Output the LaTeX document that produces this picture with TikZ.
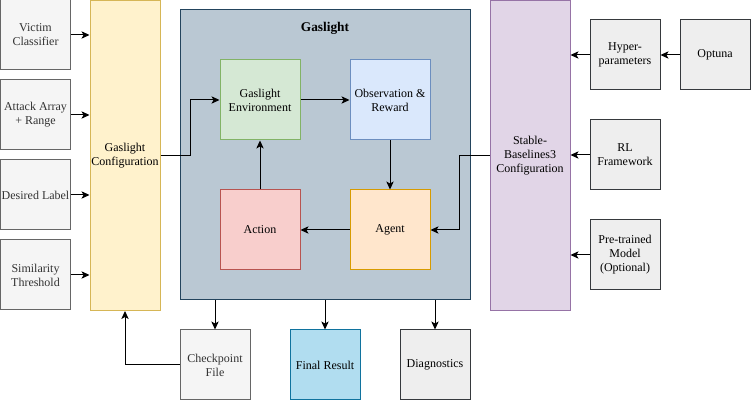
\documentclass[tikz,border=0pt]{standalone}
\usepackage{fontspec}
\setmainfont{Liberation Serif}
\newfontfamily\diagfont{Liberation Serif}
\usetikzlibrary{arrows.meta}
\definecolor{inputfill}{HTML}{f5f5f5}
\definecolor{inputline}{HTML}{666666}
\definecolor{inputtext}{HTML}{333333}
\definecolor{cfgfill}{HTML}{fff2cc}
\definecolor{cfgline}{HTML}{d6b656}
\definecolor{gasfill}{HTML}{bac8d3}
\definecolor{gasline}{HTML}{23445d}
\definecolor{envfill}{HTML}{d5e8d4}
\definecolor{envline}{HTML}{82b366}
\definecolor{obsfill}{HTML}{dae8fc}
\definecolor{obsline}{HTML}{6c8ebf}
\definecolor{actfill}{HTML}{f8cecc}
\definecolor{actline}{HTML}{b85450}
\definecolor{agentfill}{HTML}{ffe6cc}
\definecolor{agentline}{HTML}{d79b00}
\definecolor{sbfill}{HTML}{e1d5e7}
\definecolor{sbline}{HTML}{9673a6}
\definecolor{toolfill}{HTML}{eeeeee}
\definecolor{toolline}{HTML}{36393d}
\definecolor{resfill}{HTML}{b1ddf0}
\definecolor{resline}{HTML}{10739e}
\tikzset{%
    >={Stealth[length=6pt,width=5.5pt,inset=1.5pt]},
    box/.style={draw, line width=0.75pt, align=center, inner sep=1pt,
        font=\diagfont\fontsize{9}{10.5}\selectfont},
    inbox/.style={box, fill=inputfill, draw=inputline, text=inputtext,
        minimum width=52.5pt, minimum height=52.5pt},
    toolbox/.style={box, fill=toolfill, draw=toolline,
        minimum width=52.5pt, minimum height=52.5pt},
    loopbox/.style={box, minimum width=60pt, minimum height=60pt}
}

\begin{document}
\begin{tikzpicture}[x=0.75pt, y=-0.75pt, line width=0.75pt]
  \useasboundingbox (0,0) rectangle (751,402);

  % inputs on the left
  \node[inbox] (victim) at (35.5,35) {Victim\\Classifier};
  \node[inbox] (attack) at (35.5,115) {Attack Array\\+ Range};
  \node[inbox] (label) at (35.5,195) {Desired Label};
  \node[inbox] (simil) at (35.5,275) {Similarity\\Threshold};

  \node[box, fill=cfgfill, draw=cfgline, minimum width=52.5pt, minimum height=232.5pt]
      (gcfg) at (125,155.5) {Gaslight\\Configuration};

  % main loop
  \node[box, fill=gasfill, draw=gasline, minimum width=217.5pt, minimum height=217.5pt]
      (gas) at (325,155) {};
  \node[font=\diagfont\fontsize{10}{12}\selectfont\bfseries] (gastitle) at (325,28) {Gaslight};

  \node[loopbox, fill=envfill, draw=envline] (env) at (260,100) {Gaslight\\Environment};
  \node[loopbox, fill=obsfill, draw=obsline] (obs) at (390,100) {Observation \&\\Reward};
  \node[loopbox, fill=actfill, draw=actline] (action) at (260,230) {Action};
  \node[loopbox, fill=agentfill, draw=agentline] (agent) at (390,230) {Agent};

  \node[box, fill=sbfill, draw=sbline, minimum width=60pt, minimum height=232.5pt]
      (sb3) at (530,155.5) {Stable-\\Baselines3\\Configuration};

  % inputs on the right
  \node[toolbox] (hyper) at (625,55) {Hyper-\\parameters};
  \node[toolbox] (optuna) at (715,55) {Optuna};
  \node[toolbox] (rlfw) at (625,155) {RL\\Framework};
  \node[toolbox] (pretrain) at (625,255) {Pre-trained\\Model\\(Optional)};

  % outputs
  \node[inbox] (ckpt) at (215,365) {Checkpoint\\File};
  \node[box, fill=resfill, draw=resline, minimum width=52.5pt, minimum height=52.5pt]
      (final) at (325,365) {Final Result};
  \node[toolbox] (diag) at (435,365) {Diagnostics};

  \draw[->] (victim.east) -- (victim.east -| gcfg.west);
  \draw[->] (attack.east) -- (attack.east -| gcfg.west);
  \draw[->] (label.east) -- (label.east -| gcfg.west);
  \draw[->] (simil.east) -- (simil.east -| gcfg.west);

  \draw[->] (gcfg.east) -- ++(30,0) |- (env.west);
  \draw[->] (env) -- (obs);
  \draw[->] (obs) -- (agent);
  \draw[->] (agent) -- (action);
  \draw[->] (action) -- (env);
  \draw[->] (sb3.west) -- ++(-30,0) |- (agent.east);

  \draw[->] (hyper.west) -- (hyper.west -| sb3.east);
  \draw[->] (optuna) -- (hyper);
  \draw[->] (rlfw.west) -- (rlfw.west -| sb3.east);
  \draw[->] (pretrain.west) -- (pretrain.west -| sb3.east);

  \draw[->] (gas.south -| ckpt) -- (ckpt.north);
  \draw[->] (gas.south -| final) -- (final.north);
  \draw[->] (gas.south -| diag) -- (diag.north);
  \draw[->] (ckpt.west) -| (gcfg.south);
\end{tikzpicture}
\end{document}
